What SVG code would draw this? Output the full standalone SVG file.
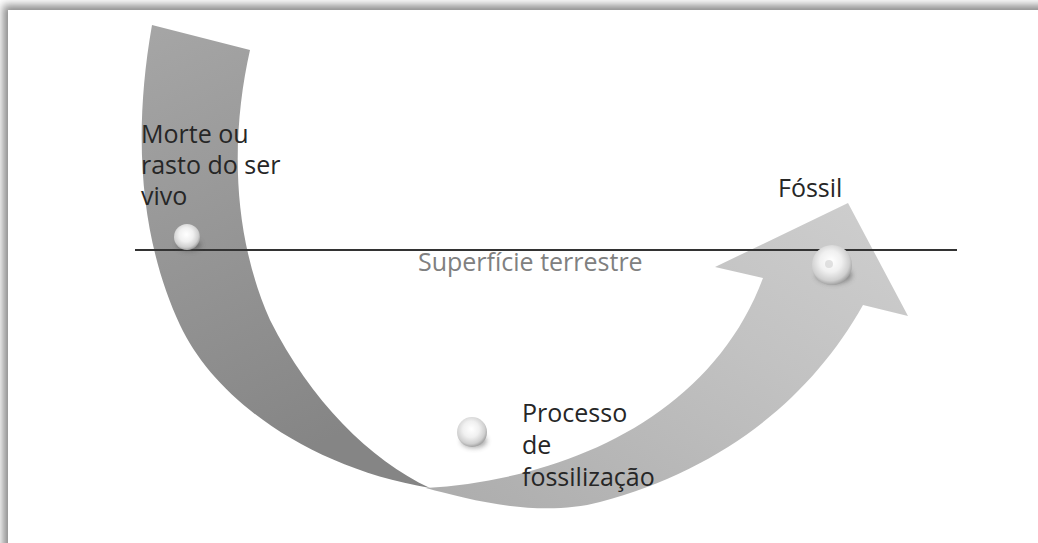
<svg xmlns="http://www.w3.org/2000/svg" width="1038" height="543" viewBox="0 0 1038 543">
<defs>
<style>
.lbl{font-family:"Open Sans","Noto Sans","Liberation Sans",sans-serif;font-size:25px;fill:#262626}
.surf{font-family:"Open Sans","Noto Sans","Liberation Sans",sans-serif;font-size:25px;fill:#808080}
</style>
<filter id="blur6" x="-5%" y="-5%" width="110%" height="110%"><feGaussianBlur stdDeviation="4"/></filter>
<filter id="soft" x="-50%" y="-50%" width="200%" height="200%"><feGaussianBlur stdDeviation="2.5"/></filter>
<linearGradient id="darkBand" x1="0" y1="0" x2="0.3" y2="1">
<stop offset="0" stop-color="#a6a6a6"/>
<stop offset="1" stop-color="#858585"/>
</linearGradient>
<linearGradient id="lightBand" x1="0" y1="1" x2="1" y2="0">
<stop offset="0" stop-color="#acacac"/>
<stop offset="0.6" stop-color="#c2c2c2"/>
<stop offset="1" stop-color="#cfcfcf"/>
</linearGradient>
<radialGradient id="bead" cx="0.45" cy="0.42" r="0.6" fx="0.48" fy="0.4">
<stop offset="0" stop-color="#ffffff"/>
<stop offset="0.45" stop-color="#f0f0f0"/>
<stop offset="0.8" stop-color="#cfcfcf"/>
<stop offset="1" stop-color="#9a9a9a"/>
</radialGradient>
</defs>
<rect x="0" y="0" width="1038" height="543" fill="#ffffff"/>
<rect x="3" y="5" width="1060" height="560" fill="#8a8a8a" filter="url(#blur6)"/>
<rect x="8" y="10" width="1040" height="545" fill="#ffffff"/>

<g id="arrow">
<path d="M152,25 L250,50 C232,130 230,230 270,320 C310,400 370,460 430,488 C310,468 215,400 180,325 C145,250 130,150 152,25 Z" fill="url(#darkBand)"/>
<path d="M426,488 C560,480 710,420 763,278 L715,267 L848,203 L908,316 L863,305 C810,400 720,470 600,502 C540,518 470,500 426,488 Z" fill="url(#lightBand)"/>
</g>

<g id="connectors">
<line x1="135" y1="250" x2="957" y2="250" stroke="#333333" stroke-width="2"/>
</g>

<g id="node-morte">
<ellipse cx="189" cy="245" rx="12" ry="6" fill="#444" opacity="0.5" filter="url(#soft)"/>
<circle cx="187" cy="237" r="13" fill="url(#bead)"/>
<text class="lbl" x="141" y="143">Morte ou</text>
<text class="lbl" x="141" y="174">rasto do ser</text>
<text class="lbl" x="141" y="205">vivo</text>
</g>

<g id="node-superficie">
<text class="surf" x="418" y="271">Superfície terrestre</text>
</g>

<g id="node-fossil">
<ellipse cx="834" cy="275" rx="18" ry="9" fill="#444" opacity="0.5" filter="url(#soft)"/>
<circle cx="832" cy="265" r="20" fill="url(#bead)"/>
<circle cx="829" cy="264" r="4" fill="#d4d4d4" opacity="0.7"/>
<text class="lbl" x="778" y="197">Fóssil</text>
</g>

<g id="node-processo">
<ellipse cx="474" cy="441" rx="13" ry="7" fill="#444" opacity="0.45" filter="url(#soft)"/>
<circle cx="472" cy="432" r="15" fill="url(#bead)"/>
<text class="lbl" x="522" y="422">Processo</text>
<text class="lbl" x="522" y="454">de</text>
<text class="lbl" x="522" y="486">fossilização</text>
</g>
</svg>
